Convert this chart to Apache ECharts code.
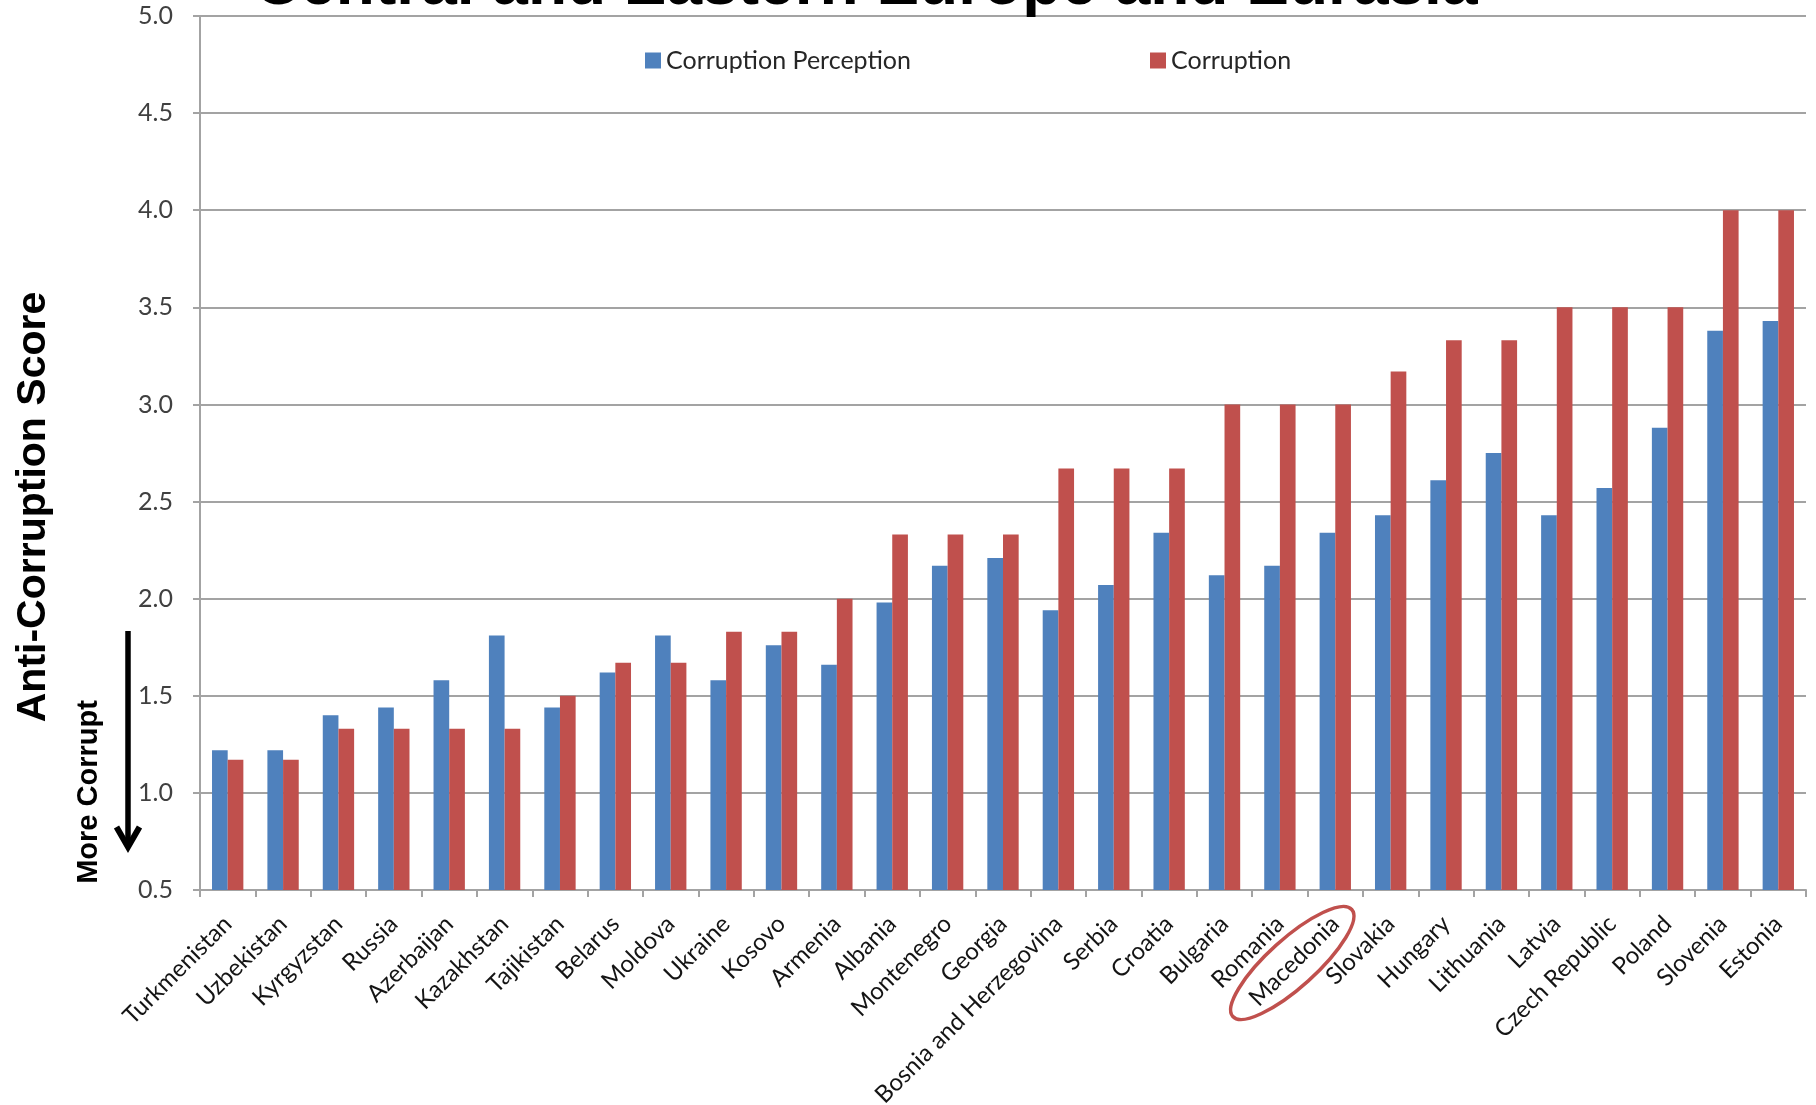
<!DOCTYPE html>
<html>
<head>
<meta charset="utf-8">
<title>Central and Eastern Europe and Eurasia</title>
<script src="https://cdn.jsdelivr.net/npm/echarts@6/dist/echarts.min.js"></script>
<style>
  html, body { margin: 0; padding: 0; background: #ffffff; }
  #chart { width: 1816px; height: 1105px; }
</style>
</head>
<body>
<div id="chart"></div>
<script>
// Countries ordered from most to least corrupt
const countries = [
  'Turkmenistan', 'Uzbekistan', 'Kyrgyzstan', 'Russia', 'Azerbaijan', 'Kazakhstan',
  'Tajikistan', 'Belarus', 'Moldova', 'Ukraine', 'Kosovo', 'Armenia', 'Albania',
  'Montenegro', 'Georgia', 'Bosnia and Herzegovina', 'Serbia', 'Croatia', 'Bulgaria',
  'Romania', 'Macedonia', 'Slovakia', 'Hungary', 'Lithuania', 'Latvia',
  'Czech Republic', 'Poland', 'Slovenia', 'Estonia'
];

// Anti-corruption scores (higher = less corrupt)
const perception = [
  1.22, 1.22, 1.40, 1.44, 1.58, 1.81,
  1.44, 1.62, 1.81, 1.58, 1.76, 1.66, 1.98,
  2.17, 2.21, 1.94, 2.07, 2.34, 2.12,
  2.17, 2.34, 2.43, 2.61, 2.75, 2.43,
  2.57, 2.88, 3.38, 3.43
];
const corruption = [
  1.17, 1.17, 1.33, 1.33, 1.33, 1.33,
  1.50, 1.67, 1.67, 1.83, 1.83, 2.00, 2.33,
  2.33, 2.33, 2.67, 2.67, 2.67, 3.00,
  3.00, 3.00, 3.17, 3.33, 3.33, 3.50,
  3.50, 3.50, 4.00, 4.00
];

// Value axis range and step
const yMin = 0.5;
const yMax = 5.0;
const yStep = 0.5;

const seriesNames = ['Corruption Perception', 'Corruption'];
const colors = ['#4F81BD', '#C0504D'];
const highlighted = 'Macedonia';

const axisGray = '#a3a3a3';
const labelFont = 'Lato';
const boldFont = '"Liberation Sans", Arial, sans-serif';

const chart = echarts.init(document.getElementById('chart'), null, { renderer: 'canvas' });

const legendBase = {
  top: 48,
  padding: 0,
  itemWidth: 16,
  itemHeight: 16,
  icon: 'rect',
  selectedMode: false,
  textStyle: { fontFamily: labelFont, fontSize: 25, color: '#262626', lineHeight: 16 }
};

const option = {
  animation: false,
  backgroundColor: '#ffffff',
  grid: {
    left: 200, right: 10, top: 16, bottom: 215,
    containLabel: false,
    outerBoundsMode: 'none'
  },
  legend: [
    Object.assign({}, legendBase, { left: 645, data: [seriesNames[0]] }),
    Object.assign({}, legendBase, { left: 1150, data: [seriesNames[1]] })
  ],
  xAxis: {
    type: 'category',
    data: countries,
    boundaryGap: true,
    axisLine: { show: true, lineStyle: { color: axisGray, width: 2 } },
    axisTick: { show: true, interval: 0, length: 7, inside: false, lineStyle: { color: axisGray, width: 2 } },
    axisLabel: {
      interval: 0,
      rotate: 45,
      margin: 30,
      fontFamily: labelFont,
      fontSize: 24,
      color: '#141414'
    },
    splitLine: { show: false }
  },
  yAxis: {
    type: 'value',
    min: yMin,
    max: yMax,
    interval: yStep,
    axisLine: { show: true, lineStyle: { color: axisGray, width: 2 } },
    axisTick: { show: true, length: 7, inside: false, lineStyle: { color: axisGray, width: 2 } },
    axisLabel: {
      formatter: function (v) { return v.toFixed(1); },
      fontFamily: labelFont,
      fontSize: 25,
      color: '#404040',
      margin: 27
    },
    splitLine: { show: true, lineStyle: { color: axisGray, width: 2 } }
  },
  series: [
    {
      name: seriesNames[0],
      type: 'bar',
      data: perception,
      barWidth: '28.3%',
      barGap: '0%',
      itemStyle: { color: colors[0] }
    },
    {
      name: seriesNames[1],
      type: 'bar',
      data: corruption,
      barWidth: '28.3%',
      barGap: '0%',
      itemStyle: { color: colors[1] }
    }
  ]
};

chart.setOption(option);

// Annotations: heading, axis title, direction arrow and the highlighted country ring
const axisY = chart.convertToPixel({ yAxisIndex: 0 }, yMin);
const hx = chart.convertToPixel({ xAxisIndex: 0 }, highlighted);

chart.setOption({
  graphic: [
    {
      type: 'text',
      x: 254,
      y: -14,
      z: 100,
      style: {
        text: 'Central and Eastern Europe and Eurasia',
        font: 'bold 64px ' + boldFont,
        fill: '#000000',
        align: 'left', textAlign: 'left',
        verticalAlign: 'middle', textVerticalAlign: 'middle'
      }
    },
    {
      type: 'text',
      x: 34,
      y: 507,
      rotation: Math.PI / 2,
      style: {
        text: 'Anti-Corruption Score',
        font: 'bold 41px ' + boldFont,
        fill: '#000000',
        align: 'center', textAlign: 'center',
        verticalAlign: 'middle', textVerticalAlign: 'middle'
      }
    },
    {
      type: 'text',
      x: 89,
      y: 792,
      rotation: Math.PI / 2,
      style: {
        text: 'More Corrupt',
        font: 'bold 29px ' + boldFont,
        fill: '#000000',
        align: 'center', textAlign: 'center',
        verticalAlign: 'middle', textVerticalAlign: 'middle'
      }
    },
    {
      type: 'line',
      shape: { x1: 128, y1: 631, x2: 128, y2: 846 },
      style: { stroke: '#000000', lineWidth: 5.5 }
    },
    {
      type: 'polyline',
      shape: { points: [[116.5, 827], [128, 847], [139.5, 827]] },
      style: { stroke: '#000000', lineWidth: 6, lineJoin: 'miter', fill: null }
    },
    {
      type: 'ellipse',
      x: hx - 43,
      y: axisY + 73,
      rotation: 42 * Math.PI / 180,
      shape: { cx: 0, cy: 0, rx: 80, ry: 24 },
      style: { stroke: '#C0504D', lineWidth: 3.5, fill: null }
    }
  ]
});
</script>
</body>
</html>
